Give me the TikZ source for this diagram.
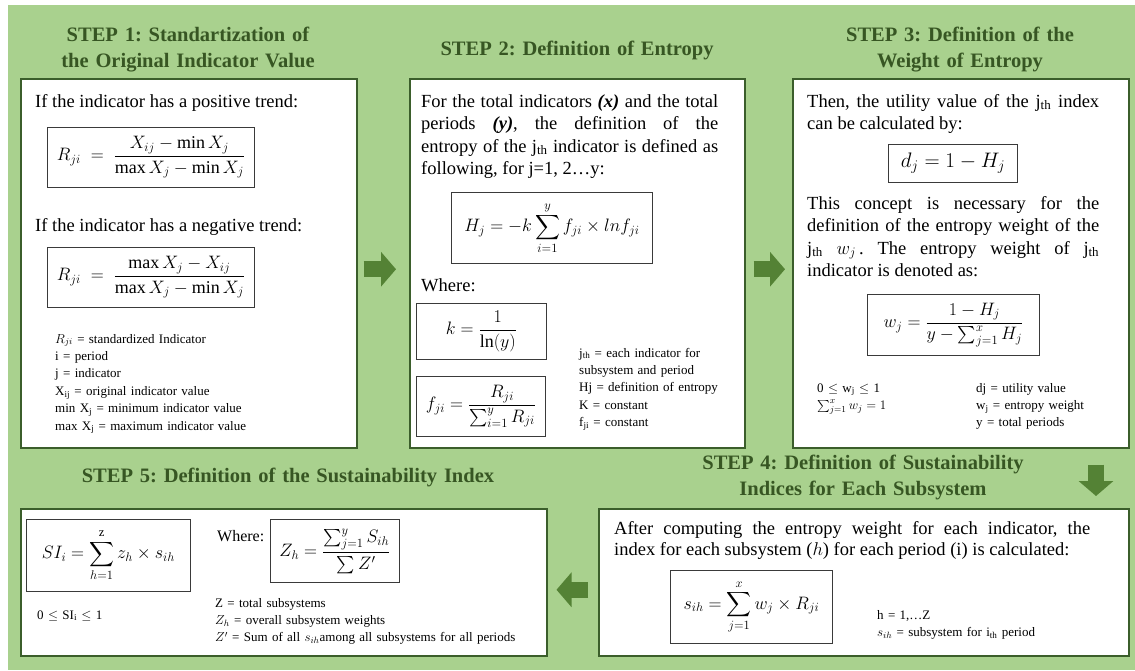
\RequirePackage{fix-cm}
\documentclass[tikz,border=0pt]{standalone}
\usepackage{amsmath}
\usepackage{fontspec}
\setmainfont{Liberation Serif}
\usepackage{xcolor}
\usepackage{tikz}
\usetikzlibrary{arrows.meta,calc}
\definecolor{leaf}{HTML}{A9D18E}
\definecolor{darkLeaf}{HTML}{375623}
\definecolor{boxEdge}{HTML}{3B5E2B}
\definecolor{arrowGreen}{HTML}{548235}
\definecolor{eqFrame}{HTML}{3A3A3A}
\frenchspacing

\begin{document}
\begin{tikzpicture}[x=1pt,y=-1pt,
    stepbox/.style={draw=boxEdge,line width=1.5pt,fill=white,anchor=north west,inner sep=0pt},
    eqbox/.style={draw=eqFrame,line width=0.9pt,anchor=north west,inner sep=0pt,
                  font=\fontsize{18}{22}\selectfont},
    head/.style={anchor=base,inner sep=0pt,align=center,text width=#1,text=darkLeaf,
                 font=\fontsize{20.5}{26}\selectfont\bfseries},
    para/.style={anchor=base west,inner sep=0pt,align=justify,text width=#1,
                 font=\fontsize{18.5}{22.6}\selectfont},
    note/.style={anchor=base west,inner sep=0pt,align=left,text width=#1,
                 font=\fontsize{13}{17.4}\selectfont},
    blk/.style={-{Triangle[length=15pt,width=34pt]},line width=16pt,draw=arrowGreen}]

  \useasboundingbox (0,0) rectangle (1135,670);
  \fill[white] (0,0) rectangle (1135,670);
  \fill[leaf] (8,5) rectangle (1135,670);

  \node[stepbox,minimum width=336,minimum height=369] (s1) at (20,78) {};
  \node[stepbox,minimum width=335,minimum height=369] (s2) at (409,78) {};
  \node[stepbox,minimum width=336,minimum height=369] (s3) at (792,78) {};
  \node[stepbox,minimum width=530,minimum height=147] (s4) at (598,508) {};
  \node[stepbox,minimum width=526,minimum height=147] (s5) at (20,508) {};

  \node[head=320] (t1) at (188,41.5) {STEP 1: Standartization of\\the Original Indicator Value};
  \node[head=320] (t2) at (577,55) {STEP 2: Definition of Entropy};
  \node[head=320] (t3) at (960,41.5) {STEP 3: Definition of the\\Weight of Entropy};
  \node[head=400] (t4) at (863,469.5) {STEP 4: Definition of Sustainability\\Indices for Each Subsystem};
  \node[head=450] (t5) at (288,482.5) {STEP 5: Definition of the Sustainability Index};

  \node[para=320] (p1a) at (35,107) {If the indicator has a positive trend:};
  \node[eqbox,minimum width=207,minimum height=60] (e1) at (47,127)
    {$R_{ji}\;=\;\dfrac{X_{ij}-\min X_j}{\max X_j-\min X_j}$};
  \node[para=320] (p1b) at (35,231) {If the indicator has a negative trend:};
  \node[eqbox,minimum width=207,minimum height=60] (e2) at (47,247)
    {$R_{ji}\;=\;\dfrac{\max X_j-X_{ij}}{\max X_j-\min X_j}$};
  \node[note=280] (n1) at (55,343) {$R_{ji}$ = standardized Indicator\\ i = period\\ j = indicator\\
    X\textsubscript{ij} = original indicator value\\ min X\textsubscript{j} = minimum indicator value\\
    max X\textsubscript{j} = maximum indicator value};

  \node[para=297] (p2) at (421,107) {For the total indicators \textbf{\textit{(x)}} and the total\linebreak
    periods \textbf{\textit{(y)}}, the definition of the\linebreak entropy of the j\textsubscript{th}
    indicator is defined as\linebreak following, for j=1, 2\ldots y:};
  \node[eqbox,minimum width=201,minimum height=71] (e3) at (451,192)
    {$\displaystyle H_j = -k\sum_{i=1}^{y} f_{ji}\times ln f_{ji}$};
  \node[para=120] (w2) at (421,291) {Where:};
  \node[eqbox,minimum width=130,minimum height=56] (e4) at (416,303) {$k = \dfrac{1}{\mathrm{ln}(y)}$};
  \node[eqbox,minimum width=129,minimum height=60] (e5) at (416,376)
    {$f_{ji} = \dfrac{R_{ji}}{\sum_{i=1}^{y} R_{ji}}$};
  \node[note=160] (n2) at (579,357) {j\textsubscript{th} = each indicator for\\ subsystem and period\\
    Hj = definition of entropy\\ K = constant\\ f\textsubscript{ji} = constant};

  \node[para=292] (p3a) at (807,107) {Then, the utility value of the j\textsubscript{th} index\linebreak
    can be calculated by:};
  \node[eqbox,minimum width=129,minimum height=38,font=\fontsize{21}{24}\selectfont] (e6) at (888,144)
    {$d_j = 1 - H_j$};
  \node[para=292] (p3b) at (807,209) {This concept is necessary for the\linebreak definition of the
    entropy weight of the\linebreak j\textsubscript{th} $w_j$\,. The entropy weight of
    j\textsubscript{th}\linebreak indicator is denoted as:};
  \node[eqbox,minimum width=172,minimum height=61] (e7) at (867,294)
    {$w_j = \dfrac{1-H_j}{y-\sum_{j=1}^{x} H_j}$};
  \node[note=120] (n3a) at (817,392) {0 $\leq$ w\textsubscript{j} $\leq$ 1\\ $\sum_{j=1}^{x} w_j = 1$};
  \node[note=140] (n3b) at (976,392) {dj = utility value\\ w\textsubscript{j} = entropy weight\\
    y = total periods};

  \node[para=476,font=\fontsize{18.5}{21}\selectfont] (p4) at (614,534) {After computing the entropy
    weight for each indicator, the\linebreak index for each subsystem ($h$) for each period (i) is calculated:};
  \node[eqbox,minimum width=162,minimum height=73] (e8) at (670,570)
    {$\displaystyle s_{ih} = \sum_{j=1}^{x} w_j \times R_{ji}$};
  \node[note=200] (n4) at (877,619) {h = 1,\ldots Z\\ $s_{ih}$ = subsystem for i\textsubscript{th} period};

  \node[eqbox,minimum width=164,minimum height=72] (e9) at (26,519)
    {$\displaystyle SI_i = \sum_{h=1}^{\mathrm{z}} z_h \times s_{ih}$};
  \node[note=120] (n5a) at (37,619) {0 $\leq$ SI\textsubscript{i} $\leq$ 1};
  \node[para=60,font=\fontsize{16}{20}\selectfont] (w5) at (217,541) {Where:};
  \node[eqbox,minimum width=129,minimum height=63] (e10) at (270,519)
    {$Z_h = \dfrac{\sum_{j=1}^{y} S_{ih}}{\sum Z'}$};
  \node[note=330] (n5b) at (215,607) {Z = total subsystems\\ $Z_h$ = overall subsystem weights\\
    $Z'$ = Sum of all $s_{ih}$among all subsystems for all periods};

  \draw[blk] ($(s1.east)+(6,6)$) -- ($(s2.west)+(-13,6)$);
  \draw[blk] ($(s2.east)+(8,6)$) -- ($(s3.west)+(-7,6)$);
  \draw[blk] ($(s3.south east)+(-33.5,16)$) -- ($(s4.north east)+(-33.5,-12)$);
  \draw[blk] ($(s4.west)+(-10,7.5)$) -- ($(s5.east)+(9,7.5)$);
\end{tikzpicture}
\end{document}
